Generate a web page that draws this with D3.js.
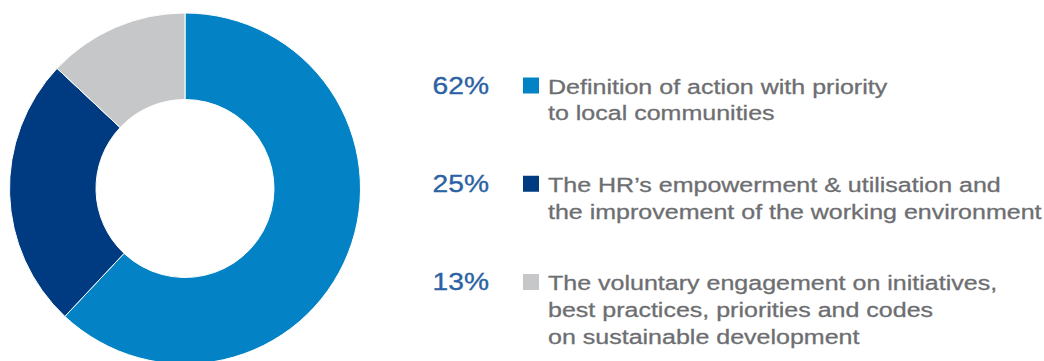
<!DOCTYPE html>
<html>
<head>
<meta charset="utf-8">
<script src="https://cdn.jsdelivr.net/npm/d3@7"></script>
<style>
  html, body { margin: 0; padding: 0; background: #ffffff; }
  svg { display: block; }
</style>
</head>
<body>
<svg id="chart" width="1044" height="361"></svg>
<script>
// Share of initiatives by theme
const categories = ["priority", "hr", "voluntary"];
const values = [62, 25, 13];
const percentLabels = ["62%", "25%", "13%"];
const descriptions = [
  ["Definition of action with priority", "to local communities"],
  ["The HR\u2019s empowerment & utilisation and", "the improvement of the working environment"],
  ["The voluntary engagement on initiatives,", "best practices, priorities and codes", "on sustainable development"]
];
const colors = ["#0383c5", "#003a80", "#c6c7c9"];

const svg = d3.select("#chart");

// Donut
const cx = 185, cy = 188.5, outerR = 175.5, innerR = 89;
const pie = d3.pie().sort(null).value(d => d.value);
const arc = d3.arc().innerRadius(innerR).outerRadius(outerR);
const color = d3.scaleOrdinal().domain(categories).range(colors);

const arcs = pie(categories.map((c, i) => ({ key: c, value: values[i] })));

svg.append("g")
  .attr("transform", `translate(${cx},${cy})`)
  .selectAll("path")
  .data(arcs)
  .join("path")
  .attr("d", arc)
  .attr("fill", d => color(d.data.key))
  .attr("stroke", "#ffffff")
  .attr("stroke-width", 1);

// Legend
const rowY = d3.scalePoint().domain(categories).range([93.5, 290]);
const lineH = 26.8;
const legend = svg.append("g")
  .attr("font-family", "'Liberation Sans', Arial, Helvetica, sans-serif");

const rows = legend.selectAll("g.row")
  .data(categories)
  .join("g")
  .attr("class", "row")
  .attr("transform", d => `translate(0,${rowY(d)})`);

// percentage, right-aligned, set in a wide face
rows.append("g")
  .attr("transform", "translate(489,0) scale(1.15,1)")
  .append("text")
  .attr("x", 0)
  .attr("y", 0)
  .attr("text-anchor", "end")
  .attr("font-size", 24.5)
  .attr("fill", "#2b62a3")
  .attr("stroke", "#2b62a3")
  .attr("stroke-width", 0.35)
  .text((d, i) => percentLabels[i]);

rows.append("rect")
  .attr("x", 523)
  .attr("y", -16)
  .attr("width", 16)
  .attr("height", 16)
  .attr("fill", d => color(d));

rows.append("g")
  .attr("transform", "translate(548,0) scale(1.215,1)")
  .append("text")
  .attr("x", 0)
  .attr("y", 0)
  .attr("font-size", 20.6)
  .attr("fill", "#6d6e71")
  .attr("stroke", "#6d6e71")
  .attr("stroke-width", 0.3)
  .selectAll("tspan")
  .data((d, i) => descriptions[i])
  .join("tspan")
  .attr("x", 0)
  .attr("dy", (d, j) => j === 0 ? 0 : lineH)
  .text(d => d);
</script>
</body>
</html>
